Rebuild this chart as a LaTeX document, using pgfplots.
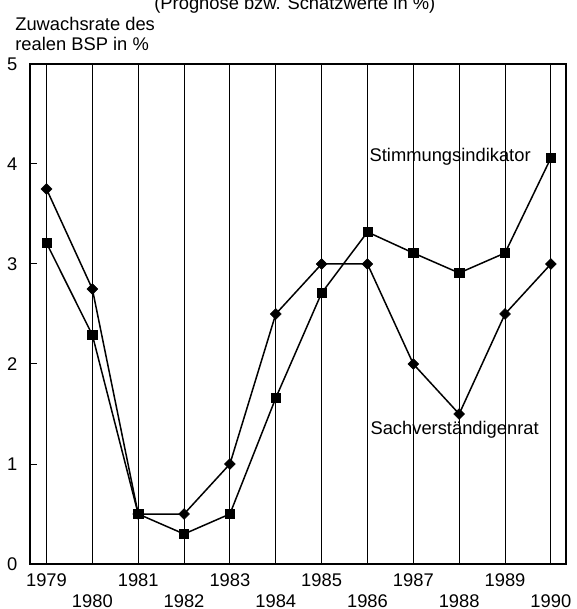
\documentclass[border=0pt]{standalone}
\usepackage{fontspec}
\setmainfont{Liberation Sans}
\usepackage{pgfplots}
\pgfplotsset{compat=1.18}
\begin{document}
\fontsize{11}{13.2}\selectfont
\begin{tikzpicture}
\begin{axis}[name=ax, scale only axis, width=321.6pt, height=300pt,
 xmin=1978.64, xmax=1990.33, ymin=0, ymax=5,
 axis line style={line width=1.2pt},
 xtick={1979,1981,...,1989}, xticklabels={1979,1981,1983,1985,1987,1989},
 extra x ticks={1980,1982,...,1990}, extra x tick labels={1980,1982,1984,1986,1988,1990},
 extra x tick style={grid=major, xticklabel style={yshift=-12.6pt}},
 xticklabel style={anchor=base, yshift=-13.2pt},
 xmajorgrids, major grid style={black, line width=0.6pt},
 xtick style={draw=none},
 ytick={0,...,5}, ytick pos=left, ytick align=inside, major tick length=4pt,
 ytick style={black, line width=0.6pt},
 yticklabel style={xshift=-3.7pt},
 /pgf/number format/assume math mode=true,
 clip=false,
]
\addplot[black, line width=0.9pt, mark=square*, mark size=2.8pt, mark options={line width=0.3pt}] coordinates {
(1979,3.21) (1980,2.29) (1981,0.5) (1982,0.3) (1983,0.5) (1984,1.66)
(1985,2.71) (1986,3.32) (1987,3.11) (1988,2.91) (1989,3.11) (1990,4.06)};
\addplot[black, line width=0.9pt, mark=square*, mark size=2.3pt, mark options={rotate=45, line width=0.3pt}] coordinates {
(1979,3.75) (1980,2.75) (1981,0.5) (1982,0.5) (1983,1.0) (1984,2.5)
(1985,3.0) (1986,3.0) (1987,2.0) (1988,1.5) (1989,2.5) (1990,3.0)};
\node[anchor=base west, inner sep=0] at (axis cs:1986.04,4.02) {Stimmungsindikator};
\node[anchor=base west, inner sep=0] at (axis cs:1986.06,1.29) {Sachverständigenrat};
\end{axis}
\node[anchor=base west, inner sep=0] at ([xshift=-9pt,yshift=19.8pt]ax.north west) {Zuwachsrate des};
\node[anchor=base west, inner sep=0] at ([xshift=-9pt,yshift=7.8pt]ax.north west) {realen BSP in \%};
\pgfresetboundingbox
\path[use as bounding box] ([xshift=-18pt,yshift=-27pt]ax.south west) rectangle ([xshift=6.6pt,yshift=38.4pt]ax.north east);
\node[overlay, anchor=base, inner sep=0] at ([xshift=158.9pt,yshift=32.6pt]ax.north west) {(Prognose bzw. Schätzwerte in \%)};
\end{tikzpicture}
\end{document}
